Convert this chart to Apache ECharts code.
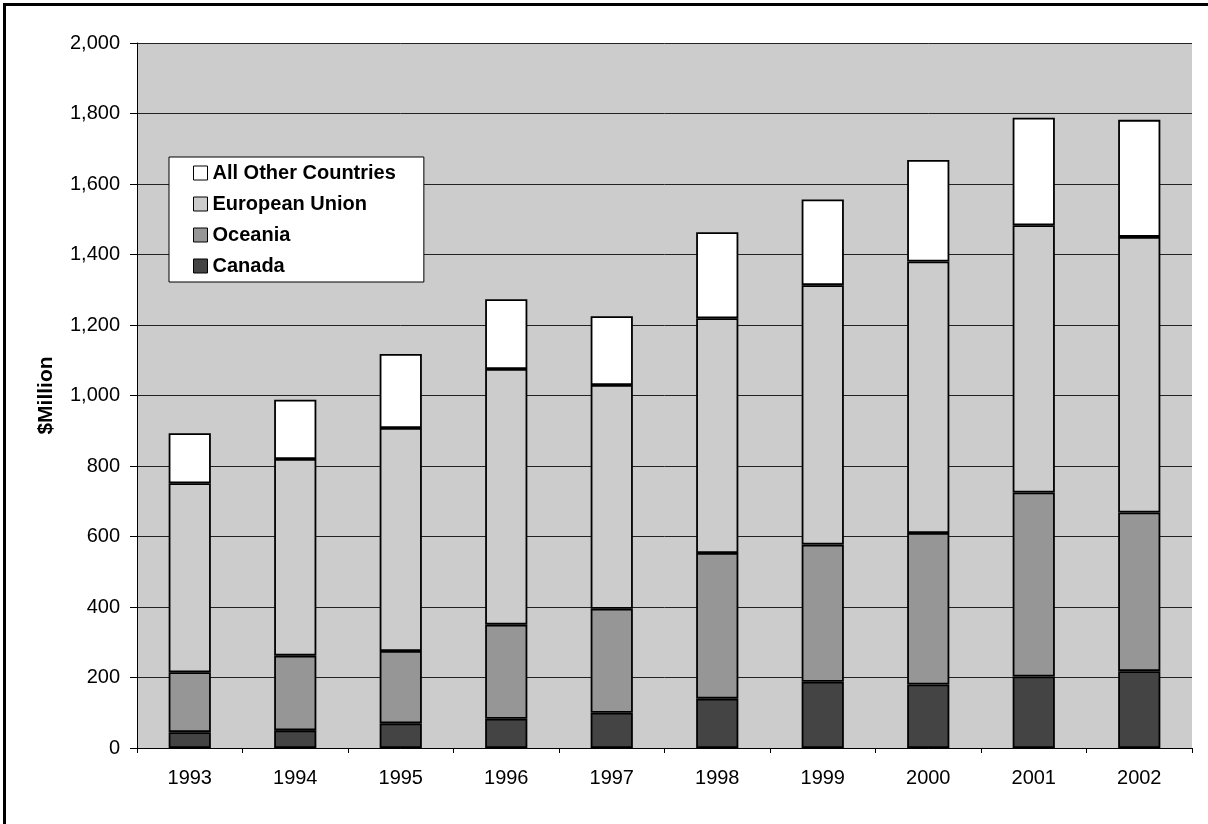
<!DOCTYPE html>
<html>
<head>
<meta charset="utf-8">
<script src="https://cdn.jsdelivr.net/npm/echarts@6/dist/echarts.min.js"></script>
<style>
  html, body { margin: 0; padding: 0; background: #fff; }
  #frame { position: absolute; left: 3px; top: 3px; width: 1220px; height: 840px; border-left: 3px solid #000; border-top: 3px solid #000; }
  #chart { position: absolute; left: 0; top: 0; width: 1208px; height: 824px; }
</style>
</head>
<body>
<div id="frame"></div>
<div id="chart"></div>
<script>
// Imports by source region, $Million
const years = ['1993', '1994', '1995', '1996', '1997', '1998', '1999', '2000', '2001', '2002'];
const canada = [45, 50, 70, 83, 100, 140, 188, 180, 203, 218];
const oceania = [170, 212, 205, 267, 295, 413, 389, 430, 522, 450];
const europeanUnion = [536, 558, 633, 725, 635, 666, 736, 770, 758, 782];
const allOtherCountries = [142, 168, 210, 198, 195, 244, 243, 288, 305, 332];
const yTicks = { min: 0, max: 2000, interval: 200 };

const chart = echarts.init(document.getElementById('chart'));

function stackSeries(name, data, color) {
  return {
    name: name,
    type: 'bar',
    stack: 'total',
    data: data,
    barWidth: '40%',
    itemStyle: { color: color, borderColor: '#000', borderWidth: 1.8 },
    emphasis: { disabled: true }
  };
}

chart.setOption({
  animation: false,
  textStyle: { fontFamily: 'Liberation Sans, Arial, sans-serif' },
  grid: { left: 137, right: 16, top: 43, bottom: 76, show: true, backgroundColor: '#cccccc', borderWidth: 0 },
  legend: {
    orient: 'vertical',
    left: 169,
    top: 157,
    data: ['All Other Countries', 'European Union', 'Oceania', 'Canada'],
    icon: 'rect',
    backgroundColor: '#ffffff',
    borderColor: '#000',
    borderWidth: 1,
    padding: [6, 28, 6, 24],
    itemWidth: 14,
    itemHeight: 14,
    itemGap: 11,
    itemStyle: { borderColor: '#000', borderWidth: 1 },
    selectedMode: false,
    textStyle: { fontSize: 20, fontWeight: 'bold', color: '#000', lineHeight: 20 }
  },
  xAxis: {
    type: 'category',
    data: years,
    axisLine: { lineStyle: { color: '#000', width: 1 } },
    axisTick: { show: true, length: 5, interval: 0, lineStyle: { color: '#000' } },
    axisLabel: { fontSize: 20, color: '#000', margin: 20, interval: 0 },
    splitLine: { show: false }
  },
  yAxis: {
    type: 'value',
    min: yTicks.min,
    max: yTicks.max,
    interval: yTicks.interval,
    name: '$Million',
    nameLocation: 'middle',
    nameGap: 80,
    nameTextStyle: { fontSize: 21, fontWeight: 'bold', color: '#000' },
    axisLine: { show: true, lineStyle: { color: '#000', width: 1 } },
    axisTick: { show: true, length: 7, lineStyle: { color: '#000' } },
    axisLabel: {
      fontSize: 20, color: '#000', margin: 17,
      formatter: v => v.toLocaleString('en-US')
    },
    splitLine: { show: true, lineStyle: { color: '#222', width: 1 } }
  },
  series: [
    stackSeries('Canada', canada, '#444444'),
    stackSeries('Oceania', oceania, '#969696'),
    stackSeries('European Union', europeanUnion, '#cccccc'),
    stackSeries('All Other Countries', allOtherCountries, '#ffffff')
  ]
});
</script>
</body>
</html>
